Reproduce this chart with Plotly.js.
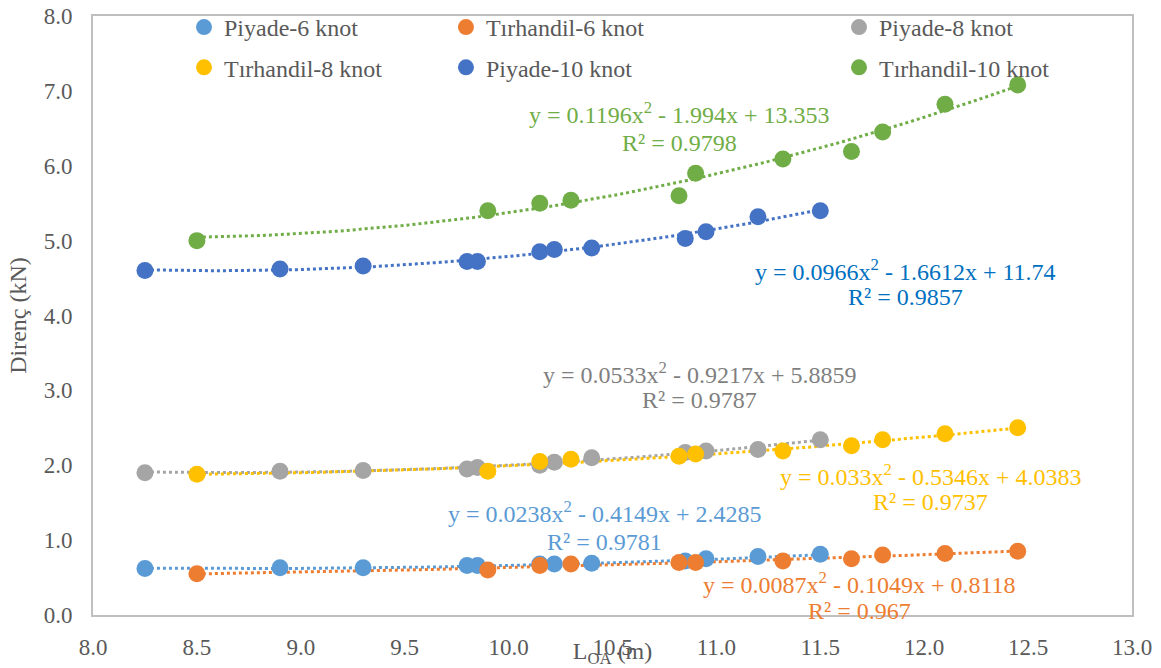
<!DOCTYPE html>
<html>
<head>
<meta charset="utf-8">
<script src="https://cdn.plot.ly/plotly-3.0.1.min.js"></script>
<style>html,body{margin:0;padding:0;background:#fff;}#chart{width:1161px;height:668px;}</style>
</head>
<body>
<div id="chart"></div>
<script>
// ---- Data ----
const piyadeX = [8.25, 8.9, 9.3, 9.8, 9.85, 10.15, 10.22, 10.4, 10.85, 10.95, 11.2, 11.5];
const tirhandilX = [8.5, 9.9, 10.15, 10.3, 10.82, 10.9, 11.32, 11.65, 11.8, 12.1, 12.45];

const piyade6 = [0.62, 0.63, 0.63, 0.66, 0.66, 0.68, 0.68, 0.69, 0.72, 0.75, 0.78, 0.81];
const piyade8 = [1.90, 1.92, 1.93, 1.95, 1.97, 2.00, 2.04, 2.10, 2.17, 2.19, 2.21, 2.34];
const piyade10 = [4.60, 4.62, 4.66, 4.72, 4.72, 4.85, 4.88, 4.90, 5.03, 5.12, 5.32, 5.40];

const tirhandil6 = [0.55, 0.60, 0.66, 0.68, 0.70, 0.70, 0.72, 0.75, 0.80, 0.82, 0.85];
const tirhandil8 = [1.88, 1.92, 2.05, 2.08, 2.12, 2.15, 2.19, 2.26, 2.34, 2.42, 2.50];
const tirhandil10 = [5.00, 5.40, 5.50, 5.54, 5.60, 5.90, 6.09, 6.19, 6.45, 6.82, 7.08];

const seriesNames = ["Piyade-6 knot", "Tırhandil-6 knot", "Piyade-8 knot",
                     "Tırhandil-8 knot", "Piyade-10 knot", "Tırhandil-10 knot"];

// polynomial trendline coefficients [a, b, c] : y = a x^2 + b x + c (as printed)
const coefP6 = [0.0238, -0.4149, 2.4285];
const coefT6 = [0.0087, -0.1049, 0.8118];
const coefP8 = [0.0533, -0.9217, 5.8859];
const coefT8 = [0.033, -0.5346, 4.0383];
const coefP10 = [0.0966, -1.6612, 11.74];
const coefT10 = [0.1196, -1.994, 13.353];

const eqLines = [
  "y = 0.0238x<sup>2</sup> - 0.4149x + 2.4285",
  "y = 0.0087x<sup>2</sup> - 0.1049x + 0.8118",
  "y = 0.0533x<sup>2</sup> - 0.9217x + 5.8859",
  "y = 0.033x<sup>2</sup> - 0.5346x + 4.0383",
  "y = 0.0966x<sup>2</sup> - 1.6612x + 11.74",
  "y = 0.1196x<sup>2</sup> - 1.994x + 13.353"
];
const r2Lines = ["R² = 0.9781", "R² = 0.967", "R² = 0.9787", "R² = 0.9737", "R² = 0.9857", "R² = 0.9798"];

// ---- Styling ----
const colors = ["#5B9BD5", "#ED7D31", "#A5A5A5", "#FFC000", "#4472C4", "#70AD47"];
const eqColors = ["#5B9BD5", "#ED7D31", "#7F7F7F", "#FFC000", "#0070C0", "#70AD47"];
const FONT = "Liberation Serif, Times New Roman, serif";

const xs = [piyadeX, tirhandilX, piyadeX, tirhandilX, piyadeX, tirhandilX];
const ys = [piyade6, tirhandil6, piyade8, tirhandil8, piyade10, tirhandil10];
const coefs = [coefP6, coefT6, coefP8, coefT8, coefP10, coefT10];
const legendOf = ["legend", "legend2", "legend3", "legend", "legend2", "legend3"];

const traces = [];
for (let i = 0; i < 6; i++) {
  const xv = xs[i];
  const x0 = Math.min(...xv), x1 = Math.max(...xv);
  const tx = [], ty = [];
  const n = 80;
  for (let k = 0; k <= n; k++) {
    const x = x0 + (x1 - x0) * k / n;
    tx.push(x);
    ty.push(coefs[i][0] * x * x + coefs[i][1] * x + coefs[i][2]);
  }
  traces.push({x: tx, y: ty, mode: "lines", type: "scatter",
    line: {color: colors[i], width: 3, dash: "dot"},
    showlegend: false, hoverinfo: "skip"});
}
for (let i = 0; i < 6; i++) {
  traces.push({x: xs[i], y: ys[i], mode: "markers", type: "scatter",
    name: seriesNames[i], legend: legendOf[i], legendgroup: "g" + i,
    marker: {color: colors[i], size: 17}});
}

// label centres: [x, y of equation line, y of R² line] in data coords
const eqPos = [
  [10.46, 1.37, 0.97],
  [11.69, 0.43, 0.06],
  [10.92, 3.23, 2.87],
  [12.03, 1.87, 1.51],
  [11.91, 4.61, 4.25],
  [10.82, 6.70, 6.30]
];
const annotations = [];
for (let i = 0; i < 6; i++) {
  annotations.push({x: eqPos[i][0], y: eqPos[i][1], xref: "x", yref: "y",
    text: eqLines[i], showarrow: false,
    font: {family: FONT, size: 24, color: eqColors[i]}});
  annotations.push({x: eqPos[i][0], y: eqPos[i][2], xref: "x", yref: "y",
    text: r2Lines[i], showarrow: false,
    font: {family: FONT, size: 24, color: eqColors[i]}});
}

const legendBase = {
  orientation: "v", bgcolor: "rgba(0,0,0,0)", borderwidth: 0,
  font: {family: FONT, size: 24, color: "#595959"},
  xanchor: "left", yanchor: "top", yref: "container", y: 0.9925, tracegroupgap: 6,
  itemwidth: 30, traceorder: "grouped"
};

const axisCommon = {
  showgrid: false, zeroline: false, showline: true, mirror: true,
  linecolor: "#BFBFBF", linewidth: 2, ticks: "",
  tickfont: {family: FONT, size: 23, color: "#595959"}
};

const layout = {
  width: 1161, height: 668,
  margin: {l: 93, r: 29, t: 16, b: 53, autoexpand: false},
  paper_bgcolor: "#fff", plot_bgcolor: "#fff",
  font: {family: FONT, color: "#595959"},
  xaxis: Object.assign({}, axisCommon, {
    range: [8, 13], dtick: 0.5, tick0: 8, tickformat: ".1f",
    ticklabelstandoff: 10,
    title: {text: "L<sub>OA</sub> (m)", standoff: 0,
      font: {family: FONT, size: 24, color: "#595959"}}
  }),
  yaxis: Object.assign({}, axisCommon, {
    range: [0, 8], dtick: 1, tick0: 0, tickformat: ".1f",
    ticklabelstandoff: 14,
    title: {text: "Direnç (kN)", standoff: 10,
      font: {family: FONT, size: 24, color: "#595959"}}
  }),
  legend: Object.assign({}, legendBase, {x: 0.0876}),
  legend2: Object.assign({}, legendBase, {x: 0.3397}),
  legend3: Object.assign({}, legendBase, {x: 0.718}),
  annotations: annotations,
  showlegend: true
};

Plotly.newPlot("chart", traces, layout, {displayModeBar: false, staticPlot: true});
</script>
</body>
</html>
